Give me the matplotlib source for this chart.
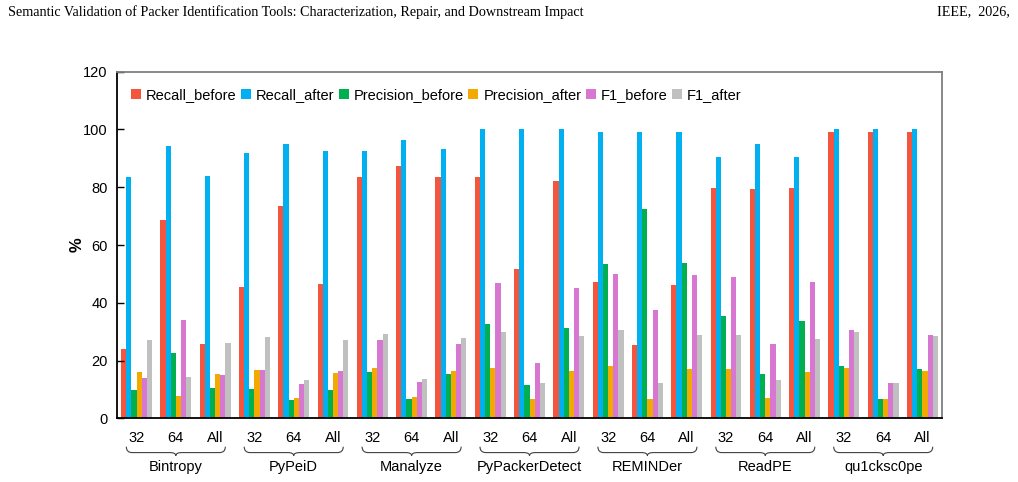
import numpy as np
import matplotlib; matplotlib.use("Agg")
import matplotlib.pyplot as plt
from matplotlib.path import Path
from matplotlib.patches import PathPatch
import matplotlib.transforms as mtransforms

plt.rcParams['font.family'] = ['Liberation Sans', 'DejaVu Sans']

tools = ["Bintropy", "PyPeiD", "Manalyze", "PyPackerDetect", "REMINDer", "ReadPE", "qu1cksc0pe"]
archs = ["32", "64", "All"]

recall_before = [24.0, 68.8, 25.8, 45.5, 73.6, 46.6, 83.4, 87.2, 83.4, 83.7, 51.8, 82.3,
                 47.3, 25.4, 46.2, 79.9, 79.5, 79.9, 99.3, 99.0, 99.3]
recall_after = [83.7, 94.4, 84.0, 92.0, 94.8, 92.4, 92.7, 96.2, 93.1, 100, 100, 100,
                99.3, 99.0, 99.3, 90.6, 94.8, 90.6, 100, 100, 100]
precision_before = [9.8, 22.6, 10.5, 10.2, 6.3, 9.8, 16.1, 6.7, 15.4, 32.7, 11.6, 31.3,
                    53.5, 72.3, 53.9, 35.5, 15.4, 33.7, 18.1, 6.7, 17.1]
precision_after = [16.1, 7.7, 15.4, 16.8, 7.0, 15.7, 17.4, 7.4, 16.4, 17.4, 6.7, 16.4,
                   18.1, 6.7, 17.1, 17.1, 7.0, 16.1, 17.4, 6.7, 16.4]
f1_before = [14.0, 34.1, 15.0, 16.8, 11.9, 16.4, 27.2, 12.6, 25.8, 46.9, 19.2, 45.2,
             50.1, 37.6, 49.7, 49.0, 25.8, 47.3, 30.6, 12.2, 28.9]
f1_after = [27.2, 14.3, 26.1, 28.2, 13.3, 27.2, 29.2, 13.6, 27.9, 29.9, 12.2, 28.5,
            30.6, 12.2, 28.9, 28.9, 13.3, 27.5, 29.9, 12.2, 28.5]

series = [("Recall_before", recall_before, "#F4553F"),
          ("Recall_after", recall_after, "#00B0F0"),
          ("Precision_before", precision_before, "#00B050"),
          ("Precision_after", precision_after, "#F2A900"),
          ("F1_before", f1_before, "#D877D2"),
          ("F1_after", f1_after, "#C0C0C0")]

fig = plt.figure(figsize=(10.18, 4.82), dpi=100)
ax = fig.add_axes([0.1152, 0.1322, 0.8099, 0.719])

n = len(tools) * len(archs)
x = np.arange(n)
w = 0.131
for i, (name, vals, col) in enumerate(series):
    ax.bar(x + (i - 2.5) * w, vals, w, color=col, label=name, linewidth=0)

ax.set_xlim(-0.49, n - 1 + 0.49)
ax.set_ylim(0, 120)
ax.set_yticks(range(0, 121, 20))
ax.tick_params(axis="y", direction="in", length=5, width=1, labelsize=10.5, pad=7)
ax.set_xticks(x)
ax.set_xticklabels(archs * len(tools))
ax.tick_params(axis="x", length=0, labelsize=10.5, pad=9)
ax.set_ylabel("%", fontsize=12, fontweight="bold", labelpad=-1)

for s in ["left", "bottom"]:
    ax.spines[s].set_color("black"); ax.spines[s].set_linewidth(1.3)
for s in ["top", "right"]:
    ax.spines[s].set_color("#7F7F7F"); ax.spines[s].set_linewidth(1.3)

ax.legend(loc="center left", bbox_to_anchor=(0.0163, 0.933), ncol=6, frameon=False,
          fontsize=10.5, handlelength=0.7, handleheight=0.7, handletextpad=0.35,
          columnspacing=0.28, borderpad=0, borderaxespad=0)

# braces and group names under the x axis
trans = mtransforms.blended_transform_factory(ax.transData, ax.transAxes)
yt, yb, yn = -0.082, -0.099, -0.108
r = 0.15
for g, tool in enumerate(tools):
    x0 = g * 3 - 0.26
    x1 = g * 3 + 2 + 0.26
    xm = (x0 + x1) / 2
    verts = [(x0, yt), (x0, yb), (x0 + r, yb), (xm - r, yb), (xm, yb), (xm, yn),
             (xm, yb), (xm + r, yb), (x1 - r, yb), (x1, yb), (x1, yt)]
    codes = [Path.MOVETO, Path.CURVE3, Path.CURVE3, Path.LINETO, Path.CURVE3, Path.CURVE3,
             Path.CURVE3, Path.CURVE3, Path.LINETO, Path.CURVE3, Path.CURVE3]
    ax.add_patch(PathPatch(Path(verts, codes), transform=trans, fill=False,
                           edgecolor="#404040", linewidth=0.8, clip_on=False))
    ax.text(g * 3 + 1, -0.1405, tool, transform=trans, ha="center", va="center", fontsize=10.5)

fig.text(8 / 1018, 1 - 12 / 482, "Semantic Validation of Packer Identification Tools: "
         "Characterization, Repair, and Downstream Impact", ha="left", va="center",
         fontsize=10.2, family="Liberation Serif")
fig.text(1010 / 1018, 1 - 12 / 482, "IEEE,  2026,", ha="right", va="center",
         fontsize=10.2, family="Liberation Serif")

fig.savefig("out.png", dpi=100)
